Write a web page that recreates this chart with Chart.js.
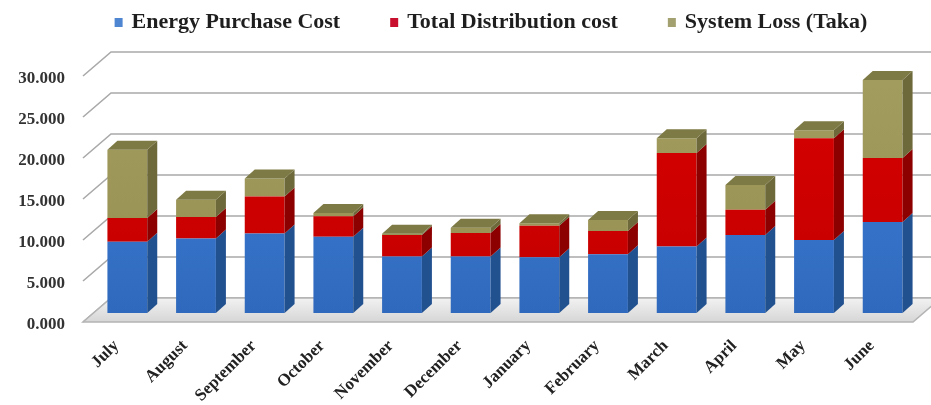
<!DOCTYPE html>
<html><head><meta charset="utf-8">
<script src="https://cdn.jsdelivr.net/npm/chart.js@4.4.1/dist/chart.umd.min.js"></script>
<style>html,body{margin:0;padding:0;background:#fff}#wrap{width:931px;height:405px}</style>
</head><body><div id="wrap"><canvas id="c" width="931" height="405"></canvas></div>
<script>
const categories = ['July','August','September','October','November','December','January','February','March','April','May','June'];
const energyPurchaseCost   = [8.7, 9.1, 9.7, 9.3, 6.9, 6.9, 6.8, 7.15, 8.1, 9.5, 8.9, 11.1];
const totalDistributionCost = [2.9, 2.6, 4.5, 2.5, 2.6, 2.85, 3.85, 2.85, 11.4, 3.1, 12.4, 7.8];
const systemLoss           = [8.3, 2.1, 2.2, 0.4, 0.15, 0.65, 0.3, 1.35, 1.8, 3.0, 1.0, 9.5];
const seriesNames = ['Energy Purchase Cost', 'Total Distribution cost', 'System Loss (Taka)'];
const yTicks = [0, 5, 10, 15, 20, 25, 30];

const FRONT_TOP = ['#4183da', '#d80000', '#a39d60'];
const FRONT_BOT = ['#2f69bd', '#c40000', '#968f52'];
const SIDE  = ['#22518f', '#8c0000', '#6d693b'];
const TOP   = ['#4f84cc', '#a80000', '#7e7a45'];
const LEGEND_BOX = ['#4f86d2', '#c8102e', '#a3a170'];
const DX = 10, DY = 9;
const FONT = '"Liberation Serif", "Times New Roman", serif';

const threeD = {
  id: 'threeD',
  beforeDatasetsDraw(chart) {
    const { ctx, chartArea: a, scales: { y } } = chart;
    const base = y.getPixelForValue(0);
    ctx.save();
    ctx.strokeStyle = '#a9a9a9';
    ctx.lineWidth = 1.6;
    yTicks.forEach(v => {
      const p = y.getPixelForValue(v);
      ctx.beginPath();
      ctx.moveTo(a.left - 10, p + 9);
      ctx.lineTo(a.left + 18, p - 15);
      ctx.lineTo(chart.width, p - 15);
      ctx.stroke();
    });
    const g = ctx.createLinearGradient(0, base - 15, 0, base + 9);
    g.addColorStop(0, '#f2f2f2');
    g.addColorStop(1, '#d6d6d6');
    ctx.beginPath();
    ctx.moveTo(a.left - 10, base + 9);
    ctx.lineTo(a.right - 4, base + 9);
    ctx.lineTo(a.right + 24, base - 15);
    ctx.lineTo(a.left + 18, base - 15);
    ctx.closePath();
    ctx.fillStyle = g;
    ctx.fill();
    ctx.strokeStyle = '#b4b4b4';
    ctx.lineWidth = 1.5;
    ctx.stroke();
    ctx.restore();
  },
  afterDatasetsDraw(chart) {
    const { ctx } = chart;
    ctx.save();
    chart.data.datasets.forEach((ds, di) => {
      const meta = chart.getDatasetMeta(di);
      meta.data.forEach(bar => {
        const { x, y: top, base, width } = bar.getProps(['x', 'y', 'base', 'width'], true);
        const r = x + width / 2;
        ctx.fillStyle = SIDE[di];
        ctx.beginPath();
        ctx.moveTo(r, base); ctx.lineTo(r, top);
        ctx.lineTo(r + DX, top - DY); ctx.lineTo(r + DX, base - DY);
        ctx.closePath(); ctx.fill();
      });
    });
    const last = chart.data.datasets.length - 1;
    const meta = chart.getDatasetMeta(last);
    meta.data.forEach(bar => {
      const { x, y: top, width } = bar.getProps(['x', 'y', 'width'], true);
      const l = x - width / 2, r = x + width / 2;
      ctx.fillStyle = TOP[last];
      ctx.beginPath();
      ctx.moveTo(l, top); ctx.lineTo(l + DX, top - DY);
      ctx.lineTo(r + DX, top - DY); ctx.lineTo(r, top);
      ctx.closePath(); ctx.fill();
    });
    ctx.restore();
  },
  afterDraw(chart) {
    const { ctx, chartArea: a } = chart;
    const names = chart.data.datasets.map(d => d.label);
    ctx.save();
    ctx.font = 'bold 22px ' + FONT;
    const widths = names.map(t => ctx.measureText(t).width);
    const BOX = 8, GAP = 9, SP = 50;
    const total = widths.reduce((s, w) => s + BOX + GAP + w, 0) + SP * (names.length - 1);
    let x = (a.left + a.right) / 2 - 14 - total / 2;
    const yc = 22;
    names.forEach((t, i) => {
      ctx.fillStyle = LEGEND_BOX[i];
      ctx.fillRect(x, yc - 4, BOX, BOX + 1);
      ctx.fillStyle = '#1e1e1e';
      ctx.textBaseline = 'middle';
      ctx.textAlign = 'left';
      ctx.fillText(t, x + BOX + GAP, yc);
      x += BOX + GAP + widths[i] + SP;
    });
    ctx.restore();
  }
};

function frontFill(i) {
  return (c) => {
    const a = c.chart.chartArea;
    if (!a) return FRONT_TOP[i];
    const g = c.chart.ctx.createLinearGradient(0, a.top, 0, a.bottom);
    g.addColorStop(0, FRONT_TOP[i]);
    g.addColorStop(1, FRONT_BOT[i]);
    return g;
  };
}

const seriesValues = [energyPurchaseCost, totalDistributionCost, systemLoss];
new Chart(document.getElementById('c'), {
  type: 'bar',
  data: {
    labels: categories,
    datasets: seriesValues.map((vals, i) => ({
      label: seriesNames[i],
      data: vals,
      backgroundColor: frontFill(i),
      borderWidth: 0,
      barPercentage: 0.58,
      categoryPercentage: 1
    }))
  },
  options: {
    responsive: false,
    animation: false,
    devicePixelRatio: 1,
    layout: { padding: { top: 67, left: 0, right: 14, bottom: 0 } },
    plugins: { legend: { display: false }, tooltip: { enabled: false } },
    scales: {
      x: {
        stacked: true,
        grid: { display: false, drawTicks: false },
        border: { display: false },
        ticks: {
          color: '#222',
          font: { family: FONT, size: 17, weight: 'bold' },
          minRotation: 45, maxRotation: 45, padding: 23, labelOffset: -11, autoSkip: false
        },
        afterFit(s) { s.height = 92; }
      },
      y: {
        stacked: true,
        min: 0, max: 30,
        grid: { display: false, drawTicks: false },
        border: { display: false },
        ticks: {
          stepSize: 5,
          color: '#333',
          font: { family: FONT, size: 17, weight: 'bold' },
          padding: 28,
          labelOffset: 12,
          callback: v => Number(v).toFixed(3)
        },
        afterFit(s) { s.width = 93; }
      }
    }
  },
  plugins: [threeD]
});
</script></body></html>
